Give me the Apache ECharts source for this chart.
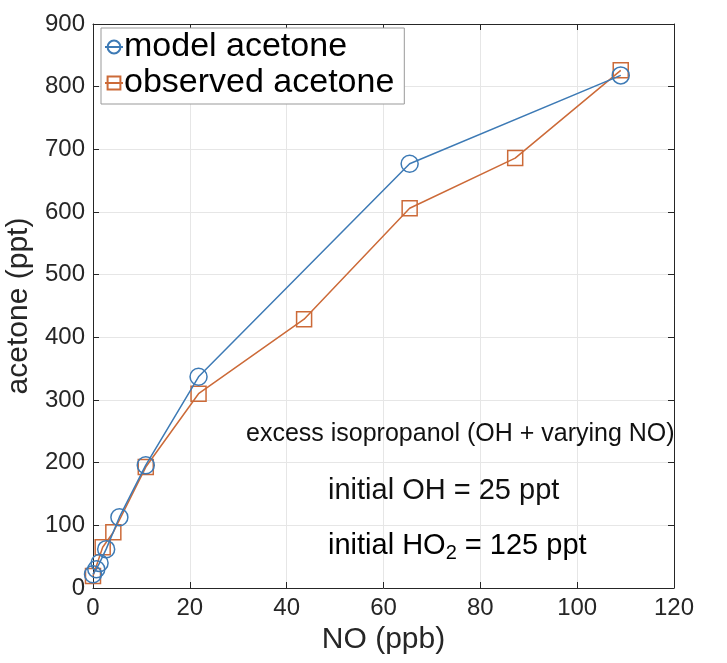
<!DOCTYPE html>
<html><head><meta charset="utf-8">
<script src="https://cdn.jsdelivr.net/npm/echarts@6/dist/echarts.min.js"></script>
<style>html,body{margin:0;padding:0;background:#fff}#c{width:727px;height:663px}</style>
</head><body><div id="c"></div>
<script>
const modelNO = [0, 0.68, 1.36, 2.72, 5.45, 10.9, 21.8, 65.4, 109];
const modelAcetone = [22, 30, 40, 62, 113, 196, 337, 677, 818];
const obsNO = [0, 2.0, 4.2, 10.9, 21.8, 43.6, 65.4, 87.2, 109];
const obsAcetone = [19, 65, 89, 193, 310, 429, 606, 686, 826];
const xTicks = [0, 20, 40, 60, 80, 100, 120];
const yTicks = [0, 100, 200, 300, 400, 500, 600, 700, 800, 900];

const blue = '#3d7ab5', orange = '#cc6a38';
const font = 'Liberation Sans, Arial, sans-serif';
const chart = echarts.init(document.getElementById('c'));
const gridLine = {show: true, lineStyle: {color: '#e6e6e6', width: 1}};
const axisLine = {show: true, onZero: false, lineStyle: {color: '#262626', width: 1}};
const tick = {show: true, inside: true, length: 6, lineStyle: {color: '#262626'}};
chart.setOption({
  animation: false,
  grid: {left: 93, top: 24, right: 53, bottom: 75, containLabel: false, outerBoundsMode: 'none'},
  legend: {
    left: 101, top: 28, orient: 'vertical', itemGap: 2, padding: [2, 10, 4, 3],
    borderColor: '#999', borderWidth: 1, backgroundColor: '#fff',
    itemWidth: 18, itemHeight: 16,
    textStyle: {fontFamily: font, fontSize: 34, lineHeight: 34, color: '#000', padding: [0, 0, 0, -4]},
    data: ['model acetone', 'observed acetone']
  },
  xAxis: [{
    type: 'value', min: xTicks[0], max: xTicks[xTicks.length - 1], interval: 20,
    name: 'NO (ppb)', nameLocation: 'middle', nameGap: 30,
    nameTextStyle: {fontFamily: font, fontSize: 30, color: '#262626'},
    axisLine: axisLine, axisTick: tick,
    axisLabel: {fontFamily: font, fontSize: 24, color: '#262626', margin: 8},
    splitLine: gridLine
  }, {
    type: 'value', position: 'top', min: 0, max: 120, interval: 20,
    axisLine: axisLine, axisTick: tick,
    axisLabel: {show: false}, splitLine: {show: false}
  }],
  yAxis: [{
    type: 'value', min: yTicks[0], max: yTicks[yTicks.length - 1], interval: 100,
    name: 'acetone (ppt)', nameLocation: 'middle', nameGap: 46,
    nameTextStyle: {fontFamily: font, fontSize: 30, color: '#262626'},
    axisLine: axisLine, axisTick: tick,
    axisLabel: {fontFamily: font, fontSize: 24, color: '#262626', margin: 8},
    splitLine: gridLine
  }, {
    type: 'value', position: 'right', min: 0, max: 900, interval: 100,
    axisLine: axisLine, axisTick: tick,
    axisLabel: {show: false}, splitLine: {show: false}
  }],
  series: [{
    name: 'model acetone', type: 'line',
    data: modelNO.map((x, i) => [x, modelAcetone[i]]),
    symbol: 'circle', symbolSize: 17,
    itemStyle: {color: 'rgba(255,255,255,0)', borderColor: blue, borderWidth: 1.5},
    lineStyle: {color: blue, width: 1.5}, color: blue, z: 3
  }, {
    name: 'observed acetone', type: 'line',
    data: obsNO.map((x, i) => [x, obsAcetone[i]]),
    symbol: 'rect', symbolSize: 15,
    itemStyle: {color: 'rgba(255,255,255,0)', borderColor: orange, borderWidth: 1.5},
    lineStyle: {color: orange, width: 1.5}, color: orange, z: 2
  }],
  graphic: [
    {type: 'text', z: 100, left: 246, top: 422, style: {text: 'excess isopropanol (OH + varying NO)', fontFamily: font, fontSize: 25, fill: '#111'}},
    {type: 'text', z: 100, left: 328, top: 476, style: {text: 'initial OH = 25 ppt', fontFamily: font, fontSize: 29, fill: '#111'}},
    {type: 'text', z: 100, left: 328, top: 531, style: {
      text: '{a|initial HO}{s|2}{a| = 125 ppt}',
      rich: {a: {fontFamily: font, fontSize: 29, color: '#111'},
             s: {fontFamily: font, fontSize: 20, color: '#111', padding: [16, 0, 0, 0]}}
    }}
  ]
});
</script></body></html>
